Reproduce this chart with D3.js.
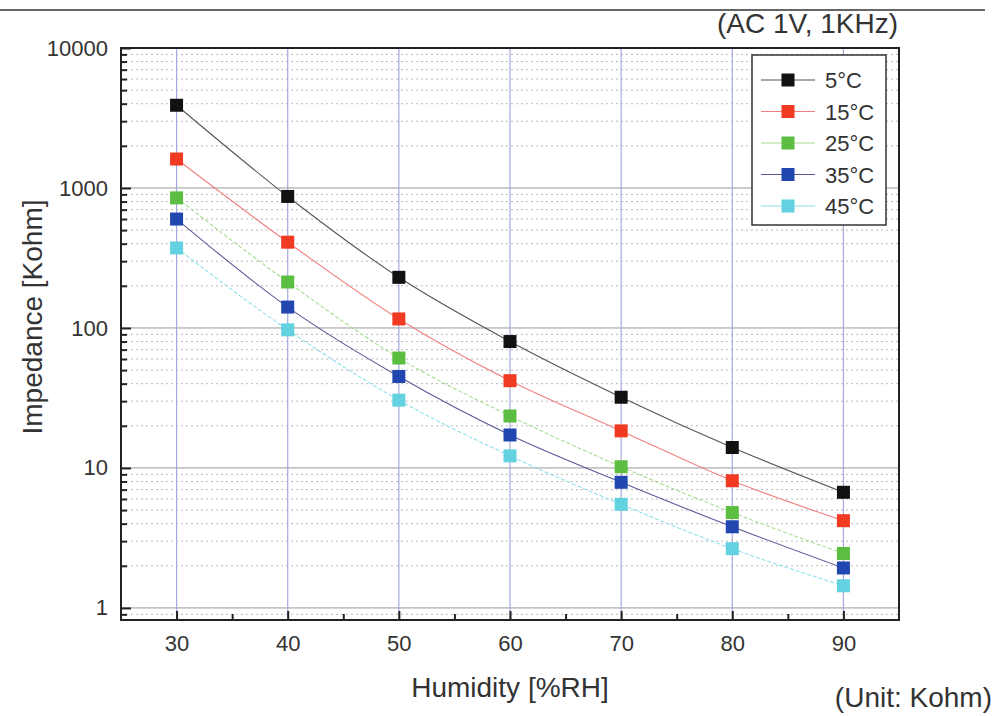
<!DOCTYPE html>
<html>
<head>
<meta charset="utf-8">
<script src="https://cdn.jsdelivr.net/npm/d3@7"></script>
<style>
  body { margin: 0; background: #fff; }
  svg { font-family: "Liberation Sans", Arial, sans-serif; }
</style>
</head>
<body>
<div id="chart"></div>
<script>
// Impedance vs humidity at several temperatures
const humidity = [30, 40, 50, 60, 70, 80, 90];
const seriesNames = ["5°C", "15°C", "25°C", "35°C", "45°C"];
const t5  = [3900, 870, 230, 80, 32, 14, 6.7];
const t15 = [1610, 410, 116, 42, 18.4, 8.1, 4.2];
const t25 = [850, 213, 61, 23.5, 10.2, 4.8, 2.45];
const t35 = [600, 141, 45, 17.2, 7.9, 3.8, 1.93];
const t45 = [373, 97, 30.5, 12.2, 5.5, 2.65, 1.44];
const yTicks = [1, 10, 100, 1000, 10000];
const xTicks = [30, 40, 50, 60, 70, 80, 90];

const colors = ["#111111", "#f03a22", "#5cbe40", "#2146b0", "#62d2e0"];
const lineColors = ["#555555", "#f08080", "#a8dc90", "#5a5a9a", "#8ee0ea"];
const dashes = [null, null, "4,2", null, "4,2"];

const W = 997, H = 716;
const margin = { top: 48, right: 98, bottom: 96, left: 121 };
const width = W - margin.left - margin.right;
const height = H - margin.top - margin.bottom;

const svgRoot = d3.select("#chart").append("svg")
    .attr("width", W).attr("height", H);

// header rule
svgRoot.append("line")
    .attr("x1", 0).attr("x2", 985).attr("y1", 10).attr("y2", 10)
    .attr("stroke", "#333").attr("stroke-width", 1.5);

svgRoot.append("text")
    .attr("x", 898).attr("y", 33)
    .attr("text-anchor", "end")
    .attr("font-size", 28).attr("fill", "#333")
    .text("(AC 1V, 1KHz)");

svgRoot.append("text")
    .attr("x", 992).attr("y", 707)
    .attr("text-anchor", "end")
    .attr("font-size", 28).attr("fill", "#333")
    .text("(Unit: Kohm)");

const svg = svgRoot.append("g")
    .attr("transform", `translate(${margin.left},${margin.top})`);

const x = d3.scaleLinear().domain([25, 95]).range([0, width]);
const y = d3.scaleLog().domain([0.82, 10000]).range([height, 0]);

// minor values for log grid
const minorVals = [];
[0.1, 1, 10, 100, 1000].forEach(d => {
    for (let k = 2; k <= 9; k++) {
        const v = d * k;
        if (v >= 0.82 && v < 10000) minorVals.push(v);
    }
});

// dotted minor grid
svg.append("g").selectAll("line")
    .data(minorVals).enter().append("line")
    .attr("x1", 0).attr("x2", width)
    .attr("y1", d => y(d)).attr("y2", d => y(d))
    .attr("stroke", "#b8b8b8").attr("stroke-width", 1)
    .attr("stroke-dasharray", "2,3");

// decade grid
svg.append("g").selectAll("line")
    .data(yTicks.filter(d => d < 10000)).enter().append("line")
    .attr("x1", 0).attr("x2", width)
    .attr("y1", d => y(d)).attr("y2", d => y(d))
    .attr("stroke", "#9a9a9a").attr("stroke-width", 1);

// vertical grid
svg.append("g").selectAll("line")
    .data(xTicks).enter().append("line")
    .attr("x1", d => x(d)).attr("x2", d => x(d))
    .attr("y1", 0).attr("y2", height)
    .attr("stroke", "#a4aade").attr("stroke-width", 1.2);

// axes
const yAxis = svg.append("g")
    .call(d3.axisLeft(y).tickValues(yTicks).tickFormat(d3.format("d")).tickSizeInner(-10).tickSizeOuter(0).tickPadding(13));
yAxis.select(".domain").remove();
yAxis.selectAll("line").attr("stroke", "#222").attr("stroke-width", 2);
yAxis.selectAll("text").attr("font-size", 22).attr("fill", "#333").attr("font-family", "Liberation Sans, Arial, sans-serif");

svg.append("g")
    .call(d3.axisLeft(y).tickValues(minorVals).tickFormat("").tickSizeInner(-6).tickSizeOuter(0))
    .call(g => g.select(".domain").remove())
    .selectAll("line").attr("stroke", "#222").attr("stroke-width", 2);

const xAxis = svg.append("g")
    .attr("transform", `translate(0,${height})`)
    .call(d3.axisBottom(x).tickValues(xTicks).tickFormat(d3.format("d")).tickSizeInner(-9).tickSizeOuter(0).tickPadding(15));
xAxis.select(".domain").remove();
xAxis.selectAll("line").attr("stroke", "#222").attr("stroke-width", 2);
xAxis.selectAll("text").attr("font-size", 22).attr("fill", "#333").attr("font-family", "Liberation Sans, Arial, sans-serif");

svg.append("g")
    .attr("transform", `translate(0,${height})`)
    .call(d3.axisBottom(x).tickValues([35, 45, 55, 65, 75, 85]).tickFormat("").tickSizeInner(-6).tickSizeOuter(0))
    .call(g => g.select(".domain").remove())
    .selectAll("line").attr("stroke", "#222").attr("stroke-width", 2);

// frame
svg.append("rect")
    .attr("width", width).attr("height", height)
    .attr("fill", "none").attr("stroke", "#222").attr("stroke-width", 2);

// axis titles
svgRoot.append("text")
    .attr("x", 510).attr("y", 697)
    .attr("text-anchor", "middle")
    .attr("font-size", 28).attr("fill", "#333")
    .text("Humidity [%RH]");

svgRoot.append("text")
    .attr("transform", "translate(42,317) rotate(-90)")
    .attr("text-anchor", "middle")
    .attr("font-size", 28).attr("fill", "#333")
    .text("Impedance [Kohm]");

// series
const allSeries = [t5, t15, t25, t35, t45].map((vals, i) => ({
    name: seriesNames[i],
    values: humidity.map((h, j) => ({ h, v: vals[j] }))
}));

const line = d3.line()
    .x(d => x(d.h))
    .y(d => y(d.v))
    .curve(d3.curveMonotoneX);

svg.selectAll(".series-line")
    .data(allSeries).enter().append("path")
    .attr("class", "series-line")
    .attr("fill", "none")
    .attr("stroke", (d, i) => lineColors[i])
    .attr("stroke-width", 1.1)
    .attr("stroke-dasharray", (d, i) => dashes[i])
    .attr("d", d => line(d.values));

const ms = 13;
allSeries.forEach((s, i) => {
    svg.append("g").selectAll("rect")
        .data(s.values).enter().append("rect")
        .attr("x", d => x(d.h) - ms / 2)
        .attr("y", d => y(d.v) - ms / 2)
        .attr("width", ms).attr("height", ms)
        .attr("fill", colors[i]);
});

// legend
const legend = svgRoot.append("g").attr("transform", "translate(752,55)");
legend.append("rect")
    .attr("width", 134).attr("height", 170)
    .attr("fill", "#fff").attr("stroke", "#333").attr("stroke-width", 1.5);

seriesNames.forEach((name, i) => {
    const ly = 25 + i * 31.5;
    legend.append("line")
        .attr("x1", 9).attr("x2", 63).attr("y1", ly).attr("y2", ly)
        .attr("stroke", lineColors[i]).attr("stroke-width", 1.1);
    legend.append("rect")
        .attr("x", 36 - ms / 2).attr("y", ly - ms / 2)
        .attr("width", ms).attr("height", ms)
        .attr("fill", colors[i]);
    legend.append("text")
        .attr("x", 73).attr("y", ly + 8)
        .attr("font-size", 22).attr("fill", "#333")
        .text(name);
});
</script>
</body>
</html>
